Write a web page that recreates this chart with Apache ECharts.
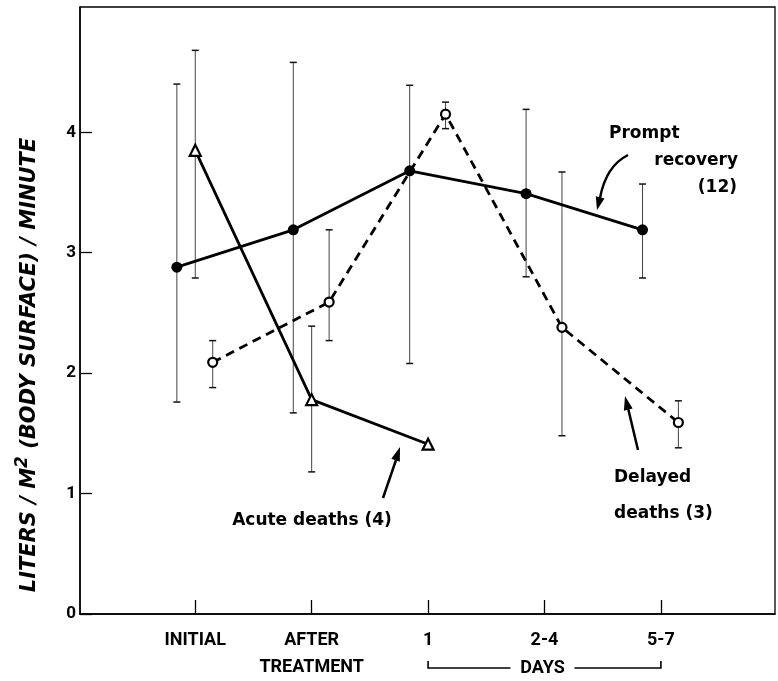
<!DOCTYPE html>
<html><head><meta charset="utf-8">
<script src="https://cdn.jsdelivr.net/npm/echarts@6/dist/echarts.min.js"></script>
<style>html,body{margin:0;padding:0;background:#fff}#c{width:778px;height:681px}</style>
</head><body><div id="c"></div>
<script>
// ---- data ----
const categories = ['INITIAL', 'AFTER\nTREATMENT', '1', '2-4', '5-7'];
const yTicks = [0, 1, 2, 3, 4];
const promptMean = [2.88, 3.19, 3.68, 3.49, 3.19];
const promptLow  = [1.76, 1.67, 2.08, 2.80, 2.79];
const promptHigh = [4.40, 4.58, 4.39, 4.19, 3.57];
const acuteMean  = [3.85, 1.78, 1.41];
const acuteLow   = [2.79, 1.18];
const acuteHigh  = [4.68, 2.39];
const delayedMean = [2.09, 2.59, 4.15, 2.38, 1.59];
const delayedLow  = [1.88, 2.27, 4.03, 1.48, 1.38];
const delayedHigh = [2.27, 3.19, 4.25, 3.67, 1.77];

// ---- style / layout ----
const OFF = { prompt: -0.158, acute: 0, delayed: 0.15 };
const FONT = 'Roboto, "DejaVu Sans", sans-serif';
const AFONT = 'bold 17px "DejaVu Sans", sans-serif';

const pts = (arr, off) => arr.map((v, i) => [i + off, v]);
const bars = (lo, hi, off) => lo.map((v, i) => [i + off, v, hi[i]]);

function errRender(params, api) {
  const x = api.value(0), lo = api.value(1), hi = api.value(2);
  const a = api.coord([x, lo]), b = api.coord([x, hi]);
  const c = 3.5;
  const st = { stroke: '#444', lineWidth: 1 };
  return { type: 'group', children: [
    { type: 'line', shape: { x1: a[0], y1: a[1], x2: b[0], y2: b[1] }, style: st },
    { type: 'line', shape: { x1: a[0] - c, y1: a[1], x2: a[0] + c, y2: a[1] }, style: { stroke: '#111', lineWidth: 1.5 } },
    { type: 'line', shape: { x1: b[0] - c, y1: b[1], x2: b[0] + c, y2: b[1] }, style: { stroke: '#111', lineWidth: 1.5 } }
  ]};
}

const chart = echarts.init(document.getElementById('c'), null, { renderer: 'canvas' });

const option = {
  backgroundColor: '#fff',
  animation: false,
  grid: { left: 80, right: 3, top: 7, bottom: 63, show: true, borderColor: '#000', borderWidth: 1.3, backgroundColor: 'transparent' },
  xAxis: {
    type: 'value', min: -0.99, max: 4.98,
    axisLine: { onZero: false, lineStyle: { color: '#000', width: 1.5 } },
    axisTick: { inside: true, length: 14, customValues: [0, 1, 2, 3, 4], lineStyle: { color: '#000', width: 1.3 } },
    axisLabel: {
      customValues: [0, 1, 2, 3, 4],
      formatter: v => categories[Math.round(v)] || '',
      color: '#000', fontFamily: FONT, fontWeight: 'bold', fontSize: 18, margin: 13, lineHeight: 27
    },
    splitLine: { show: false }
  },
  yAxis: {
    type: 'value', min: 0, max: 5.04,
    axisLine: { show: true, onZero: false, lineStyle: { color: '#000', width: 1.5 } },
    axisTick: { inside: true, length: 12, customValues: yTicks, lineStyle: { color: '#000', width: 1.3 } },
    axisLabel: { customValues: yTicks, color: '#000', fontFamily: FONT, fontWeight: 'bold', fontSize: 17, margin: 4 },
    splitLine: { show: false }
  },
  series: [
    { type: 'custom', renderItem: errRender, data: bars(promptLow, promptHigh, OFF.prompt), z: 1, silent: true },
    { type: 'custom', renderItem: errRender, data: bars(acuteLow, acuteHigh, OFF.acute), z: 1, silent: true },
    { type: 'custom', renderItem: errRender, data: bars(delayedLow, delayedHigh, OFF.delayed), z: 1, silent: true },
    { name: 'Prompt recovery (12)', type: 'line', data: pts(promptMean, OFF.prompt), z: 3,
      lineStyle: { color: '#000', width: 2.8 }, symbol: 'circle', symbolSize: 11,
      itemStyle: { color: '#000', borderColor: '#000', borderWidth: 0 } },
    { name: 'Acute deaths (4)', type: 'line', data: pts(acuteMean, OFF.acute), z: 3,
      lineStyle: { color: '#000', width: 2.8 }, symbol: 'triangle', symbolSize: 11,
      itemStyle: { color: '#fff', borderColor: '#000', borderWidth: 2.2 } },
    { name: 'Delayed deaths (3)', type: 'line', data: pts(delayedMean, OFF.delayed), z: 3,
      lineStyle: { color: '#000', width: 2.8, type: [9, 6] }, symbol: 'circle', symbolSize: 9,
      itemStyle: { color: '#fff', borderColor: '#000', borderWidth: 2.2 } }
  ]
};
chart.setOption(option);

function arrowHead(tip, from, len, hw) {
  const dx = tip[0] - from[0], dy = tip[1] - from[1];
  const d = Math.hypot(dx, dy), ux = dx / d, uy = dy / d;
  const bx = tip[0] - ux * len, by = tip[1] - uy * len;
  return { type: 'polygon', shape: { points: [tip, [bx - uy * hw, by + ux * hw], [bx + uy * hw, by - ux * hw]] },
    style: { fill: '#000' } };
}
const txt = (text, x, y, align) => ({ type: 'text', x, y,
  style: { text, fill: '#000', font: AFONT, textAlign: align || 'left', textVerticalAlign: 'middle' } });

// DAYS bracket under the day ticks
const p1 = chart.convertToPixel({ gridIndex: 0 }, [2, 0]);
const p5 = chart.convertToPixel({ gridIndex: 0 }, [4, 0]);
const by = 668, mid = (p1[0] + p5[0]) / 2;

chart.setOption({ graphic: [
  { type: 'text', x: 30, y: 365, rotation: Math.PI / 2,
    style: { text: 'LITERS / M{s|2} (BODY SURFACE) / MINUTE', fill: '#000',
      font: 'italic bold 21px "DejaVu Sans", sans-serif', textAlign: 'center', textVerticalAlign: 'middle',
      rich: { s: { font: 'italic bold 17px "DejaVu Sans", sans-serif', padding: [0, 0, 14, 0], fill: '#000' } } } },
  { type: 'polyline', shape: { points: [[p1[0], by - 7], [p1[0], by], [mid - 34, by]] }, style: { stroke: '#000', lineWidth: 1.6, fill: null } },
  { type: 'polyline', shape: { points: [[mid + 30, by], [p5[0], by], [p5[0], by - 7]] }, style: { stroke: '#000', lineWidth: 1.6, fill: null } },
  { type: 'text', x: mid - 2, y: by, style: { text: 'DAYS', fill: '#000', font: 'bold 18px ' + FONT, textAlign: 'center', textVerticalAlign: 'middle' } },

  txt('Prompt', 609, 134),
  txt('recovery', 738, 161, 'right'),
  txt('(12)', 737, 188, 'right'),
  { type: 'bezierCurve', shape: { x1: 628, y1: 155, cpx1: 606, cpy1: 166, x2: 600, y2: 198 }, style: { stroke: '#000', lineWidth: 2.5, fill: null } },
  arrowHead([597, 210], [601, 194], 13, 4.5),

  txt('Acute deaths (4)', 312, 521, 'center'),
  { type: 'line', shape: { x1: 383, y1: 498, x2: 396, y2: 460 }, style: { stroke: '#000', lineWidth: 2.5 } },
  arrowHead([400, 447], [383, 498], 14, 4.5),

  txt('Delayed', 614, 478),
  txt('deaths (3)', 614, 514),
  { type: 'line', shape: { x1: 638, y1: 450, x2: 628, y2: 408 }, style: { stroke: '#000', lineWidth: 2.5 } },
  arrowHead([625, 396], [638, 450], 14, 4.5)
]});
</script>
</body></html>
